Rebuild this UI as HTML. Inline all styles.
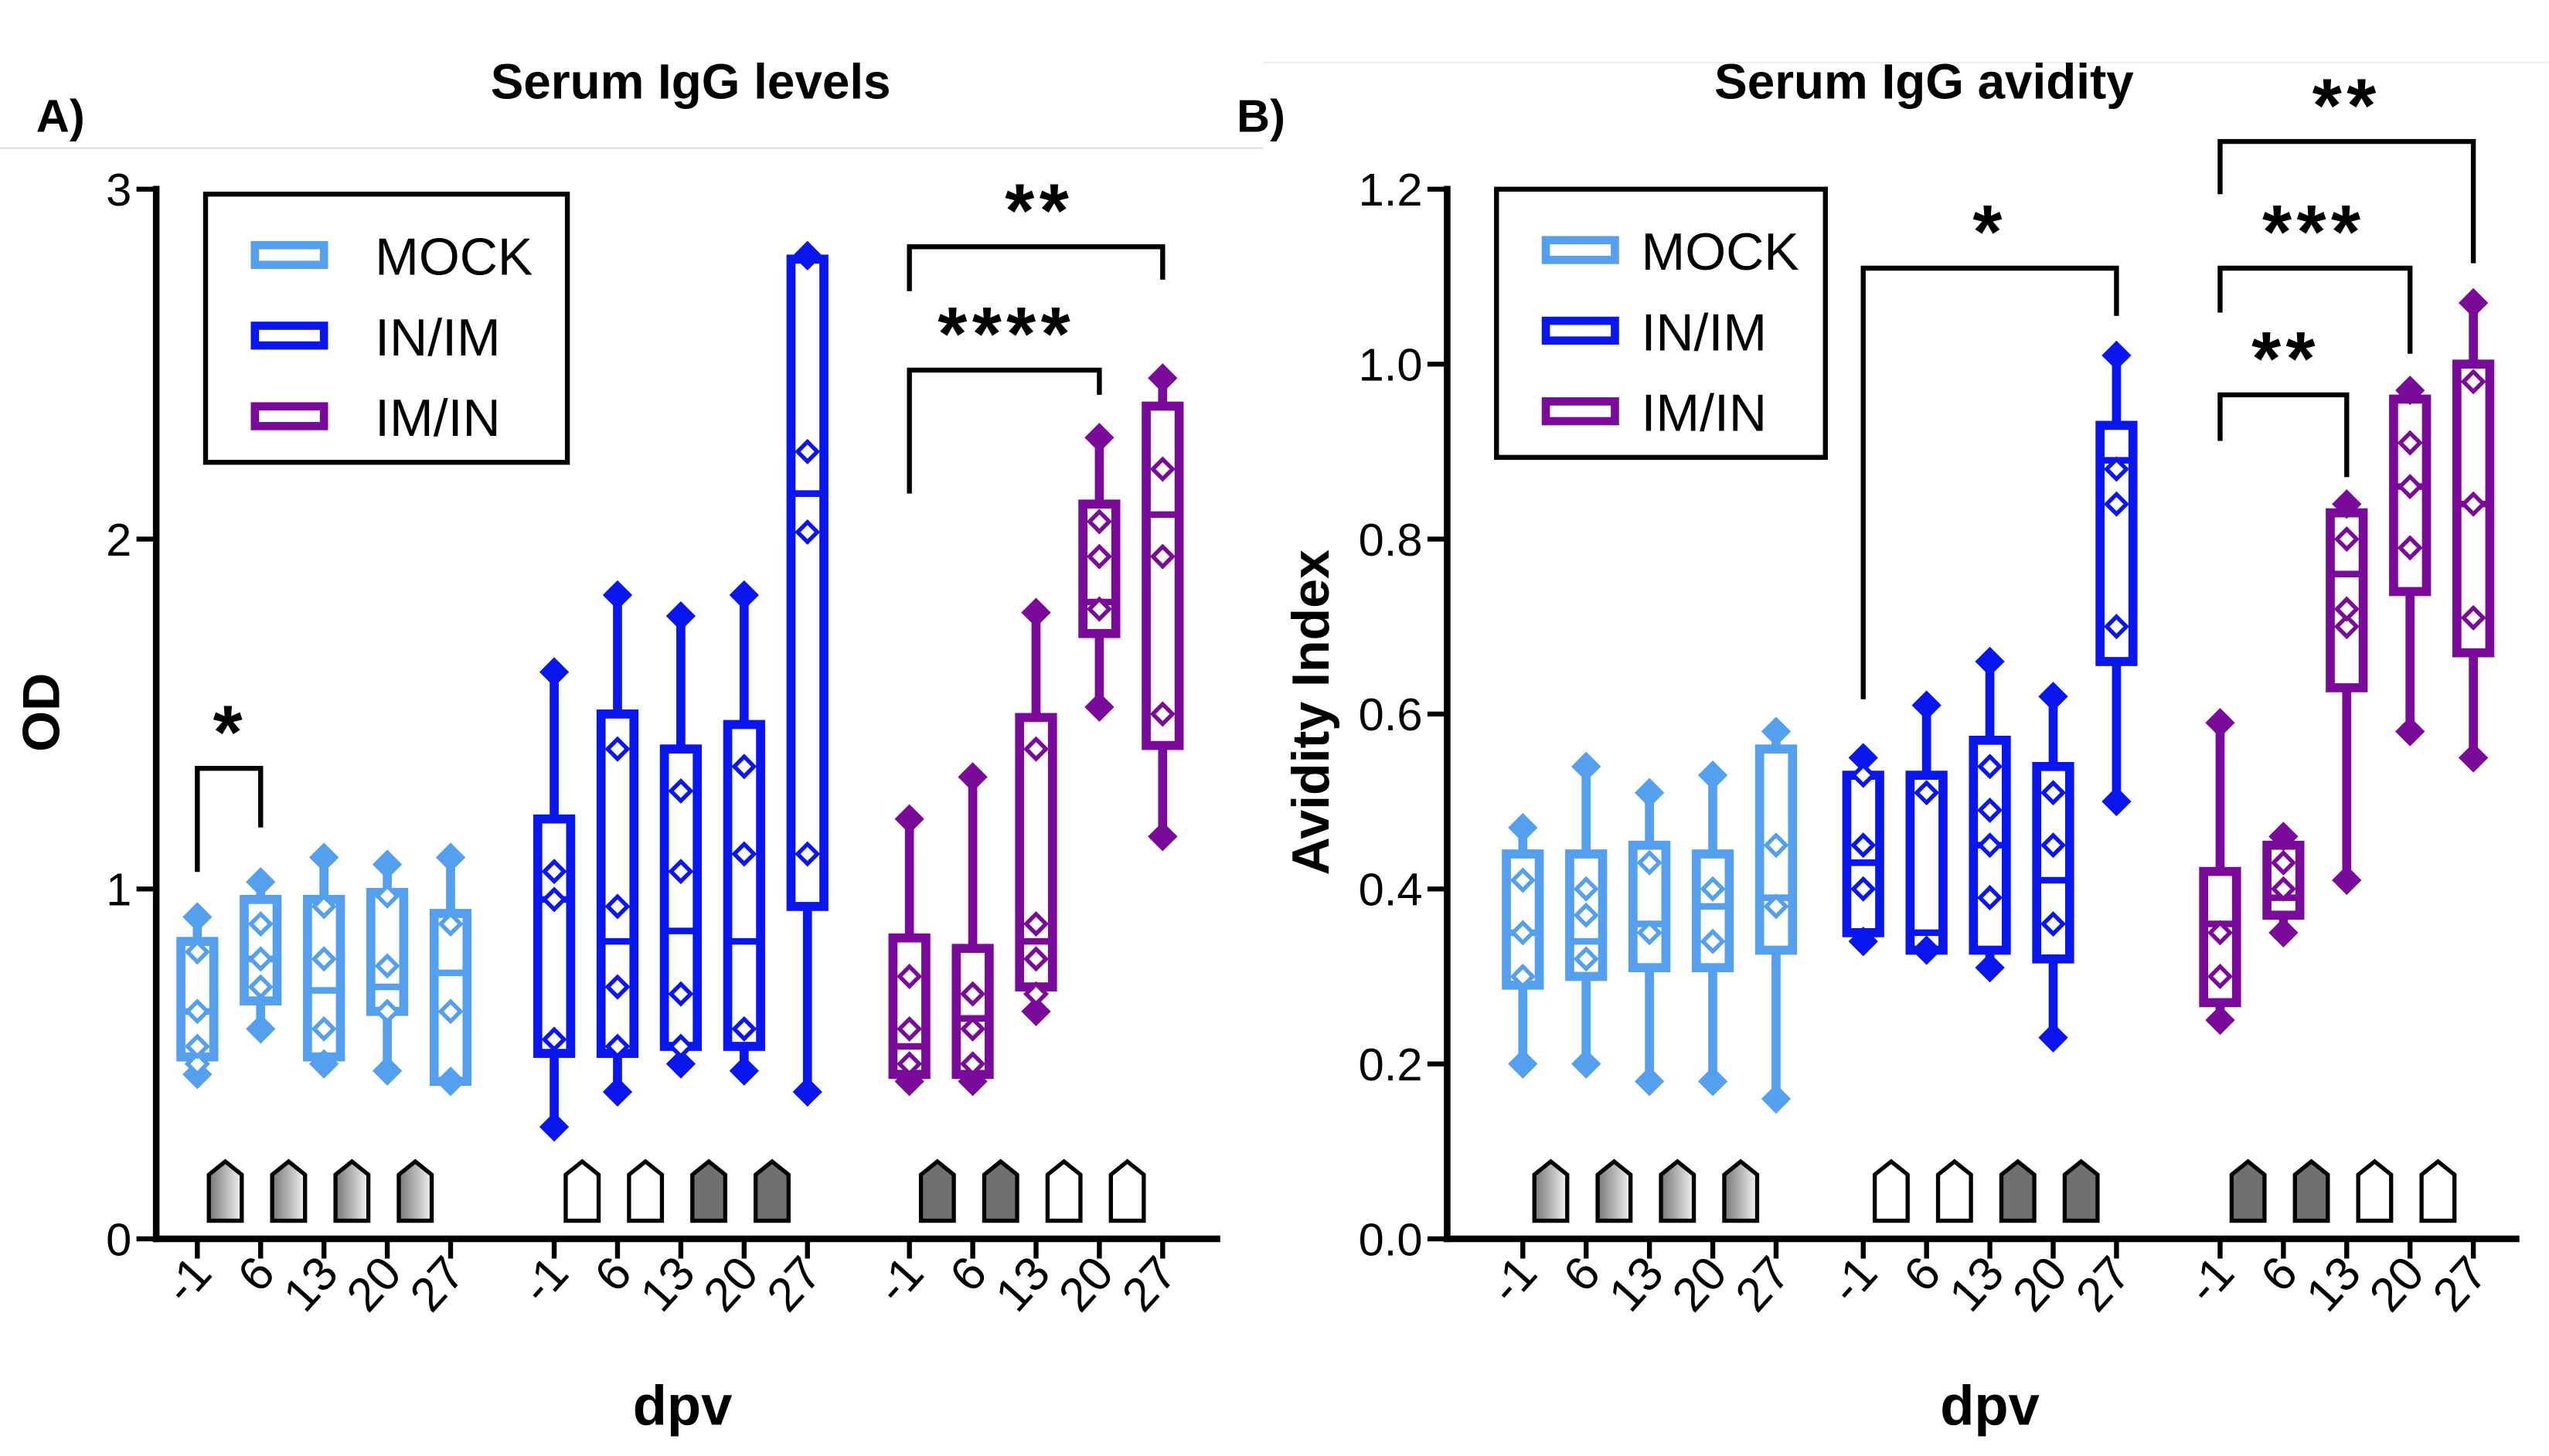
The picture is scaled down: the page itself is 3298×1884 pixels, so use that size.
<!DOCTYPE html>
<html><head><meta charset="utf-8"><style>
html,body{margin:0;padding:0;background:#fff;}
svg{display:block;font-family:"Liberation Sans",Arial,sans-serif;}
</style></head><body>
<svg id="chart" width="3298" height="1884" viewBox="0 0 1550 885" preserveAspectRatio="none" xmlns="http://www.w3.org/2000/svg">
<defs><linearGradient id="gr" x1="0" x2="1"><stop offset="0" stop-color="#777"/><stop offset="1" stop-color="#f2f2f2"/></linearGradient></defs>
<line x1="0" y1="90" x2="768" y2="90" stroke="#ddd" stroke-width="1"/>
<line x1="768" y1="38" x2="1550" y2="38" stroke="#eee" stroke-width="1"/>
<text x="22" y="80" font-size="28" font-weight="bold">A)</text>
<text x="752" y="80" font-size="28" font-weight="bold">B)</text>
<text x="420" y="60" font-size="30" font-weight="bold" text-anchor="middle">Serum IgG levels</text>
<text x="1170" y="60" font-size="30" font-weight="bold" text-anchor="middle">Serum IgG avidity</text>
<g id="pa"></g>
<g id="pb"></g>
</svg>
<script>
const NS="http://www.w3.org/2000/svg";
const groups=["MOCK","IN/IM","IM/IN"];
const colors=["#55a0ee","#0a16ee","#7a0a9a"];
const days=["-1","6","13","20","27"];
// Panel A: [min,q1,median,q3,max]
const odStats=[
[[0.47,0.52,0.65,0.85,0.92],[0.6,0.68,0.8,0.97,1.02],[0.5,0.52,0.71,0.97,1.09],[0.48,0.65,0.72,0.99,1.07],[0.45,0.45,0.76,0.93,1.09]],
[[0.32,0.53,0.97,1.2,1.62],[0.42,0.53,0.85,1.5,1.84],[0.5,0.55,0.88,1.4,1.78],[0.48,0.55,0.85,1.47,1.84],[0.42,0.95,2.13,2.8,2.81]],
[[0.45,0.47,0.55,0.86,1.2],[0.45,0.47,0.63,0.83,1.32],[0.65,0.72,0.85,1.49,1.79],[1.52,1.73,1.82,2.1,2.29],[1.15,1.41,2.07,2.38,2.46]]];
const odPoints=[
[[0.5,0.55,0.65,0.82],[0.72,0.8,0.9],[0.6,0.8,0.95],[0.65,0.78,0.98],[0.65,0.9]],
[[0.57,0.97,1.05],[0.55,0.72,0.95,1.4],[0.55,0.7,1.05,1.28],[0.6,1.1,1.35],[1.1,2.02,2.25]],
[[0.5,0.6,0.75],[0.5,0.6,0.7],[0.7,0.8,0.9,1.4],[1.8,1.95,2.05],[1.5,1.95,2.2]]];
// Panel B
const avStats=[
[[0.2,0.29,0.35,0.44,0.47],[0.2,0.3,0.34,0.44,0.54],[0.18,0.31,0.36,0.45,0.51],[0.18,0.31,0.38,0.44,0.53],[0.16,0.33,0.39,0.56,0.58]],
[[0.34,0.35,0.43,0.53,0.55],[0.33,0.33,0.35,0.53,0.61],[0.31,0.33,0.45,0.57,0.66],[0.23,0.32,0.41,0.54,0.62],[0.5,0.66,0.89,0.93,1.01]],
[[0.25,0.27,0.36,0.42,0.59],[0.35,0.37,0.39,0.45,0.46],[0.41,0.63,0.76,0.83,0.84],[0.58,0.74,0.86,0.96,0.97],[0.55,0.67,0.84,1.0,1.07]]];
const avPoints=[
[[0.3,0.35,0.41],[0.32,0.37,0.4],[0.35,0.43],[0.34,0.4],[0.38,0.45]],
[[0.4,0.45,0.53],[0.51],[0.39,0.45,0.49,0.54],[0.36,0.45,0.51],[0.7,0.84,0.88]],
[[0.3,0.35],[0.4,0.43],[0.7,0.72,0.8],[0.79,0.86,0.91],[0.71,0.84,0.98]]];
const odTicks=[0,1,2,3];
const avTicks=[0.0,0.2,0.4,0.6,0.8,1.0,1.2];
const iconFills=[["g","g","g","g"],["w","w","d","d"],["d","d","w","w"]];

function el(p,tag,a,t){const e=document.createElementNS(NS,tag);for(const k in a)e.setAttribute(k,a[k]);if(t!==undefined)e.textContent=t;p.appendChild(e);return e;}

function panel(gid,cfg){
  const g=document.getElementById(gid);
  const y=v=>cfg.y0-(v-cfg.vmin)/(cfg.vmax-cfg.vmin)*(cfg.y0-cfg.y1);
  const xs=(gi,di)=>cfg.gx[gi]+di*38.5;
  const ya=el(g,"line",{x1:cfg.ax,y1:cfg.y1-2,x2:cfg.ax,y2:cfg.y0+2,stroke:"#000","stroke-width":4});
  
  const xa=el(g,"line",{x1:cfg.ax-2,y1:cfg.y0,x2:cfg.xend,y2:cfg.y0,stroke:"#000","stroke-width":4});
  
  cfg.ticks.forEach(t=>{
    el(g,"line",{x1:cfg.ax-12,y1:y(t),x2:cfg.ax,y2:y(t),stroke:"#000","stroke-width":3});
    const tl=el(g,"text",{x:cfg.ax-15,y:y(t)+10,"font-size":28,"text-anchor":"end"},cfg.fmt(t));
    
  });
  const yt=el(g,"text",{x:0,y:0,"font-size":32,"font-weight":"bold","text-anchor":"middle",transform:`translate(${cfg.ylx},${cfg.yly}) rotate(-90)`},cfg.ylabel);
  
  const xt=el(g,"text",{x:cfg.dpvx,y:866,"font-size":34,"font-weight":"bold","text-anchor":"middle"},"dpv");
  
  for(let gi=0;gi<3;gi++){
    for(let di=0;di<5;di++){
      const x=xs(gi,di);
      el(g,"line",{x1:x,y1:cfg.y0,x2:x,y2:cfg.y0+12,stroke:"#000","stroke-width":3});
      const lb=el(g,"text",{x:0,y:0,"font-size":29,"text-anchor":"end",transform:`translate(${x+10},${cfg.y0+22}) rotate(-48)`},days[di]);
      
      const s=cfg.stats[gi][di],c=colors[gi];
      const bx=el(g,"g",{});
      
      
      el(bx,"line",{x1:x,y1:y(s[0]),x2:x,y2:y(s[1]),stroke:c,"stroke-width":5.5});
      el(bx,"line",{x1:x,y1:y(s[3]),x2:x,y2:y(s[4]),stroke:c,"stroke-width":5.5});
      el(bx,"rect",{x:x-10,y:y(s[3]),width:20,height:Math.max(1,y(s[1])-y(s[3])),fill:"#fff",stroke:c,"stroke-width":5.5});
      el(bx,"line",{x1:x-10,y1:y(s[2]),x2:x+10,y2:y(s[2]),stroke:c,"stroke-width":4});
      [s[0],s[4]].forEach(v=>el(bx,"path",{d:`M${x} ${y(v)-9}L${x+9} ${y(v)}L${x} ${y(v)+9}L${x-9} ${y(v)}Z`,fill:c}));
      cfg.pts[gi][di].forEach(v=>el(bx,"path",{d:`M${x} ${y(v)-6}L${x+6} ${y(v)}L${x} ${y(v)+6}L${x-6} ${y(v)}Z`,fill:"#fff",stroke:c,"stroke-width":2.5}));
      if(di<4){
        const f=iconFills[gi][di];
        const ix=cfg.gx[gi]+di*38.5+17;
        const ic=el(g,"path",{d:`M${ix-10} 742L${ix-10} 714L${ix} 706L${ix+10} 714L${ix+10} 742Z`,fill:f=="g"?"url(#gr)":f=="d"?"#707070":"#fff",stroke:"#000","stroke-width":2.5});
        
      }
    }
  }
  const lg=el(g,"g",{});
  
  el(lg,"rect",{x:cfg.lx,y:cfg.ly,width:cfg.lw,height:163,fill:"#fff",stroke:"#000","stroke-width":3});
  groups.forEach((n,i)=>{
    const e=el(lg,"g",{});
    
    el(e,"rect",{x:cfg.lx+30,y:cfg.ly+31+i*49,width:42,height:12,fill:"#fff",stroke:colors[i],"stroke-width":5});
    el(e,"text",{x:cfg.lx+cfg.lt,y:cfg.ly+49+i*49,"font-size":32},n);
  });
  cfg.br.forEach(b=>{
    const x1=xs(b[0],b[1]),x2=xs(b[2],b[3]);
    const bg=el(g,"g",{});
    
    el(bg,"path",{d:`M${x1} ${b[5]}V${b[4]}H${x2}V${b[6]}`,fill:"none",stroke:"#000","stroke-width":3});
    el(bg,"text",{x:b[8],y:b[4]-6,"font-size":46,"font-weight":"bold","text-anchor":"middle","letter-spacing":"3"},b[7]);
  });
}
panel("pa",{stats:odStats,pts:odPoints,ticks:odTicks,fmt:t=>String(t),vmin:0,vmax:3,y0:753,y1:115,ax:95,xend:742,gx:[120,337,553],
  ylabel:"OD",ylx:36,yly:433,dpvx:415,lx:125,ly:118,lw:220,lt:103,
  br:[[0,0,0,1,467,530,503,"*",140],[2,0,2,3,225,300,240,"****",612],[2,0,2,4,150,177,170,"**",632]]});
panel("pb",{stats:avStats,pts:avPoints,ticks:avTicks,fmt:t=>t.toFixed(1),vmin:0,vmax:1.2,y0:753,y1:115,ax:880,xend:1532,gx:[926,1133,1350],
  ylabel:"Avidity Index",ylx:808,yly:433,dpvx:1210,lx:910,ly:115,lw:200,lt:88,
  br:[[1,0,1,4,163,425,192,"*",1210],[2,0,2,4,86,118,160,"**",1427],[2,0,2,3,163,190,215,"***",1407],[2,0,2,2,240,268,290,"**",1390]]});
</script>
</body></html>
